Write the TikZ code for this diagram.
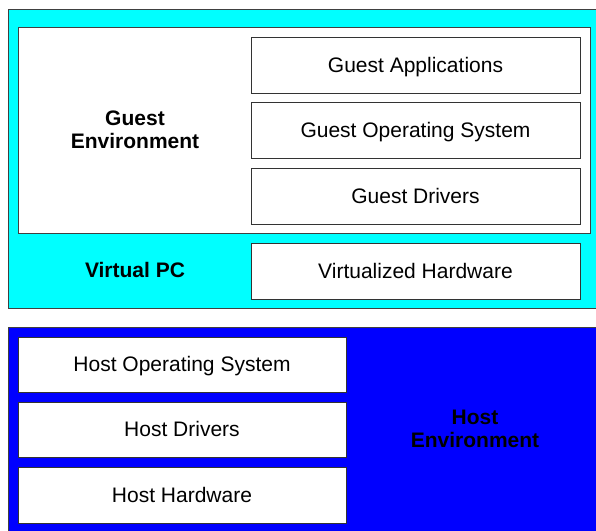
\documentclass[tikz,border=0pt]{standalone}
\usepackage{fontspec}
\setmainfont{Liberation Sans}
\definecolor{vpccyan}{RGB}{0,255,255}
\definecolor{hostblue}{RGB}{0,0,255}
\begin{document}
\begin{tikzpicture}[x=1pt,y=-1pt,
  panel/.style={draw=black!75,line width=0.8pt},
  layer/.style={draw=black!80,fill=white,line width=0.8pt,minimum width=329pt,minimum height=56pt,inner sep=0pt,text depth=0.5pt,font=\fontsize{21}{24}\selectfont},
  lbl/.style={font=\fontsize{21}{23}\selectfont\bfseries,align=center,inner sep=0pt}]
\useasboundingbox (0,0) rectangle (596,530);
\fill[white] (0,0) rectangle (596,530);
% Virtual PC panel
\path[panel,fill=vpccyan] (8,9) rectangle (597,308);
\path[panel,fill=white] (18,27) rectangle (590,233);
\node[layer] (ga) at (415.5,65) {Guest Applications};
\node[layer] (gos) at (415.5,130) {Guest Operating System};
\node[layer] (gd) at (415.5,196) {Guest Drivers};
\node[layer] (vh) at (415.5,271) {Virtualized Hardware};
\node[lbl] (ge) at (135,130) {Guest\\Environment};
\node[lbl] (vpc) at (135,270) {Virtual PC};
% Host panel
\path[panel,fill=hostblue] (8,327) rectangle (597,531);
\node[layer,minimum width=328pt,minimum height=55pt] (hos) at (182,364.5) {Host Operating System};
\node[layer,minimum width=328pt,minimum height=55pt] (hd) at (182,429.5) {Host Drivers};
\node[layer,minimum width=328pt,minimum height=56pt] (hh) at (182,495) {Host Hardware};
\node[lbl] (he) at (475,429) {Host\\Environment};
\end{tikzpicture}
\end{document}
